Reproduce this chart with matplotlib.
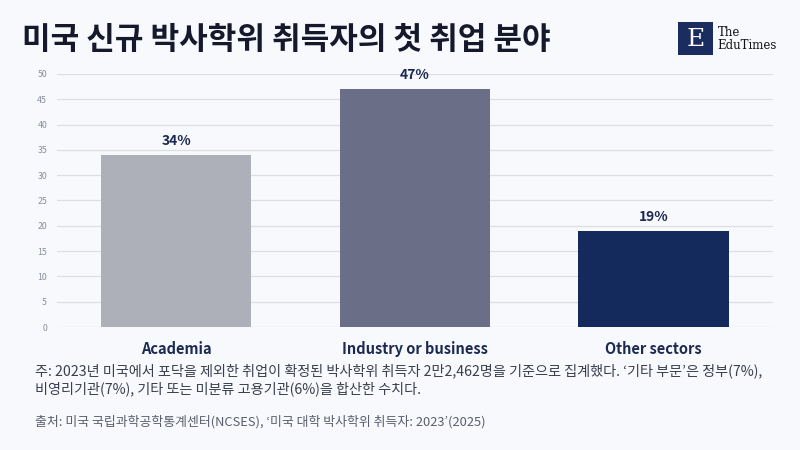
import matplotlib
matplotlib.use('Agg')
import matplotlib.pyplot as plt
from matplotlib.patches import Rectangle

plt.rcParams['font.family'] = ['Noto Sans CJK KR', 'DejaVu Sans']

# 데이터
categories = ['Academia', 'Industry or business', 'Other sectors']
values = [34, 47, 19]
bar_labels = ['34%', '47%', '19%']
bar_colors = ['#AEB0B9', '#6A6E87', '#142A5C']
yticks = [0, 5, 10, 15, 20, 25, 30, 35, 40, 45, 50]

title = '미국 신규 박사학위 취득자의 첫 취업 분야'
note = ('주: 2023년 미국에서 포닥을 제외한 취업이 확정된 박사학위 취득자 2만2,462명을 기준으로 집계했다. ‘기타 부문’은 정부(7%),\n'
        '비영리기관(7%), 기타 또는 미분류 고용기관(6%)을 합산한 수치다.')
source = '출처: 미국 국립과학공학통계센터(NCSES), ‘미국 대학 박사학위 취득자: 2023’(2025)'

bg = '#F8F9FC'
navy = '#1C2A52'

fig = plt.figure(figsize=(8, 4.5), dpi=100, facecolor=bg)
ax = fig.add_axes([0.071, 0.2733, 0.895, 0.5623], facecolor=bg)

x = range(len(categories))
ax.bar(x, values, width=0.63, color=bar_colors, zorder=2)
for i, v in enumerate(values):
    ax.text(i, v + 1.4, bar_labels[i], ha='center', va='bottom', fontsize=10,
            fontweight='bold', color=navy)

ax.set_xlim(-0.5, 2.5)
ax.set_ylim(0, 50)
ax.set_yticks(yticks)
ax.set_yticklabels([str(t) for t in yticks], fontsize=6.3, color='#8A8F9E')
ax.set_xticks(list(x))
ax.set_xticklabels(categories, fontsize=10.5, fontweight='bold', color=navy)
ax.grid(axis='y', color='#DCDEE4', linewidth=0.9, zorder=0)
for s in ax.spines.values():
    s.set_visible(False)
ax.tick_params(axis='both', length=0)
ax.tick_params(axis='y', pad=7)
ax.tick_params(axis='x', pad=10)

# 제목
fig.text(0.027, 0.912, title, fontsize=22.4, fontweight='bold', color='#15192B',
         ha='left', va='center')

# 주석, 출처
fig.text(0.044, 0.193, note, fontsize=10.2, fontweight='medium', color='#3A3F4E',
         ha='left', va='top', linespacing=1.3)
fig.text(0.044, 0.063, source, fontsize=9.3, fontweight='medium', color='#5A5F6C',
         ha='left', va='center')

# 로고
fig.patches.append(Rectangle((0.8475, 0.878), 0.0438, 0.073, transform=fig.transFigure,
                             facecolor='#1B2C5E', edgecolor='none'))
fig.text(0.8694, 0.913, 'E', fontsize=18, family='DejaVu Serif', color='white',
         ha='center', va='center')
fig.text(0.897, 0.927, 'The', fontsize=8.5, family='DejaVu Serif', color='#111111',
         ha='left', va='center')
fig.text(0.897, 0.898, 'EduTimes', fontsize=8.5, family='DejaVu Serif', color='#111111',
         ha='left', va='center')

fig.savefig('out.png', dpi=100, facecolor=bg)
